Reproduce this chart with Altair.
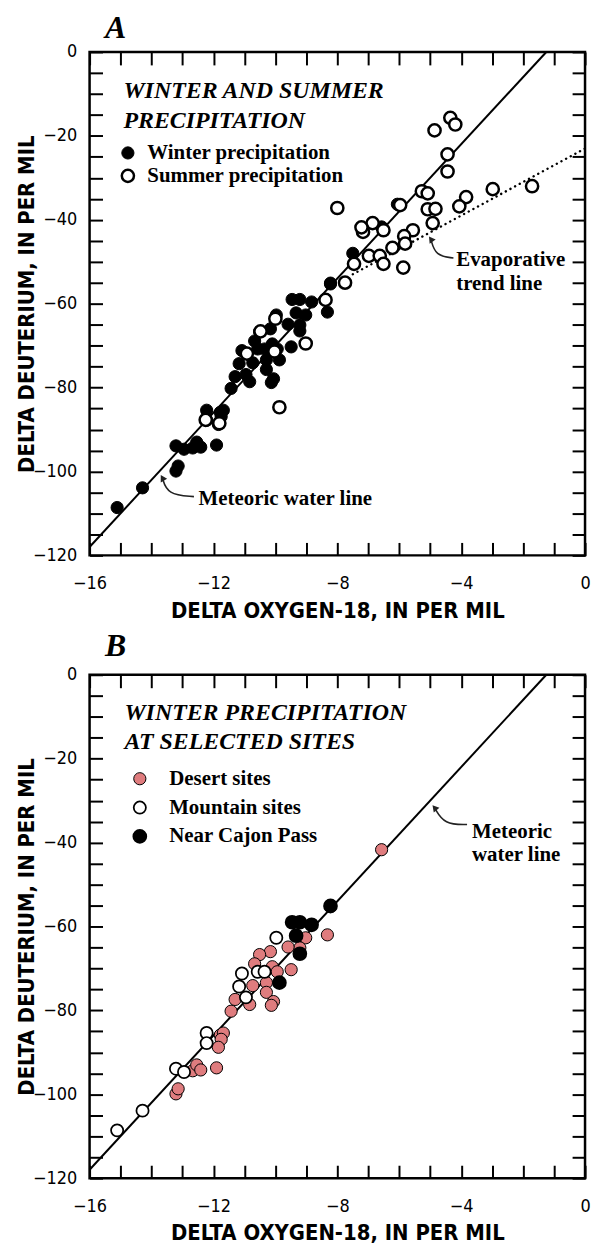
import altair as alt
import pandas as pd

# ---------------- Panel B data (winter precipitation at selected sites) ----------------
desert_x = [-6.57, -8.22, -8.32, -9.02, -9.21, -9.59, -10.16, -10.51, -10.67, -10.10, -9.49, -9.94,
            -10.29, -10.73, -10.29, -11.30, -10.83, -10.06, -10.13, -11.43, -11.78, -11.68, -11.75,
            -11.84, -13.21, -13.14, -12.67, -12.54, -12.41, -11.90]
desert_y = [-41.7, -55.3, -62.0, -62.7, -65.1, -64.9, -66.0, -66.7, -68.9, -69.6, -70.3, -70.8,
            -73.4, -74.1, -75.7, -77.4, -78.6, -77.9, -78.8, -80.2, -85.9, -85.4, -86.9,
            -88.8, -99.9, -98.7, -94.4, -93.0, -94.2, -93.7]
mountain_x = [-15.11, -14.29, -13.21, -12.95, -12.22, -12.22, -11.17, -10.95, -11.08, -10.57, -10.35, -9.97]
mountain_y = [-108.6, -103.9, -93.9, -94.7, -85.4, -87.8, -74.3, -76.9, -71.2, -70.8, -70.8, -62.7]
cajon_x = [-8.22, -9.46, -9.21, -8.83, -9.33, -9.21, -9.87]
cajon_y = [-55.1, -59.0, -59.0, -59.6, -62.2, -66.5, -73.4]

# ---------------- Panel A data ----------------
# winter precipitation = all panel B samples plus a few more
winter_extra_x = [-7.50, -6.06]
winter_extra_y = [-48.0, -36.3]
summer_x = [-4.35, -4.19, -4.86, -4.44, -4.44, -5.27, -5.08, -1.71, -2.98, -3.84, -4.06, -5.08,
            -4.83, -4.92, -5.97, -8.00, -6.86, -7.17, -7.22, -6.51, -5.56, -5.84, -5.81, -6.22,
            -6.98, -6.63, -6.51, -5.87, -7.46, -7.75, -8.38, -10.00, -10.48, -10.92, -10.03,
            -9.02, -9.87, -12.25, -11.81]
summer_y = [-15.7, -17.3, -18.7, -24.4, -28.5, -33.2, -33.7, -32.0, -32.7, -34.6, -36.8, -37.5,
            -37.4, -40.8, -36.5, -37.2, -40.8, -42.9, -41.8, -42.5, -42.5, -43.9, -45.7, -46.7,
            -48.6, -48.6, -50.5, -51.4, -50.5, -55.0, -59.1, -63.6, -66.6, -71.9, -71.4,
            -69.5, -84.7, -87.7, -88.5]

# Global meteoric water line: dD = 8 d18O + 10
mwl_x = [-16.0, -1.25]
mwl_y = [8 * v + 10 for v in mwl_x]
# Evaporative trend line: dD = 4 d18O - 23
evap_x = [-7.5, 0.0]
evap_y = [4 * v - 23 for v in evap_x]

x_ticks = list(range(-16, 1))
y_ticks = list(range(-120, 1, 5))

SANS = "Liberation Sans Narrow, DejaVu Sans Condensed, sans-serif"
SERIF = "Liberation Serif, serif"
W, H = 498, 506

xs = alt.Scale(domain=[-16, 0], nice=False, zero=False)
ys = alt.Scale(domain=[-120, 0], nice=False, zero=False)


def main_x_axis():
    return alt.Axis(orient="bottom", values=x_ticks, offset=-13, tickSize=13, domain=False,
                    grid=False, labelExpr="datum.value % 4 === 0 ? datum.label : ''",
                    labelFlush=False, labelOverlap=False, labelPadding=19,
                    title="DELTA OXYGEN-18, IN PER MIL", titlePadding=8)


def main_y_axis():
    return alt.Axis(orient="left", values=y_ticks, offset=-13, tickSize=13, domain=False,
                    grid=False, labelExpr="datum.value % 20 === 0 ? datum.label : ''",
                    labelFlush=False, labelOverlap=False, labelPadding=13,
                    title="DELTA DEUTERIUM, IN PER MIL", titlePadding=-6)


def mirror_x_axis():
    return alt.Axis(orient="top", values=x_ticks, offset=-13, tickSize=13, domain=False,
                    grid=False, labels=False, title=None)


def mirror_y_axis():
    return alt.Axis(orient="right", values=y_ticks, offset=-13, tickSize=13, domain=False,
                    grid=False, labels=False, title=None)


def lines(evap=True):
    mwl = alt.Chart(pd.DataFrame({"x": mwl_x, "y": mwl_y})).mark_line(
        color="black", strokeWidth=2).encode(
        x=alt.X("x:Q", scale=xs, axis=main_x_axis()),
        y=alt.Y("y:Q", scale=ys, axis=main_y_axis()))
    out = [mwl]
    if evap:
        ev = alt.Chart(pd.DataFrame({"x": evap_x, "y": evap_y})).mark_line(
            color="black", strokeWidth=2.4, strokeDash=[0.1, 5.2], strokeCap="round").encode(
            x=alt.X("x:Q", scale=xs, axis=None), y=alt.Y("y:Q", scale=ys, axis=None))
        out.append(ev)
    return out


def arrow(xs_, ys_, angle):
    df = pd.DataFrame({"x": xs_, "y": ys_, "o": list(range(len(xs_)))})
    ln = alt.Chart(df).mark_line(color="#222", strokeWidth=1.6, interpolate="basis").encode(
        x=alt.X("x:Q", scale=xs, axis=None), y=alt.Y("y:Q", scale=ys, axis=None), order="o:O")
    tip = alt.Chart(df.iloc[[-1]]).mark_point(shape="triangle-up", filled=True, color="#222",
                                               size=55, angle=angle, opacity=1).encode(
        x=alt.X("x:Q", scale=xs, axis=None), y=alt.Y("y:Q", scale=ys, axis=None))
    return [ln, tip]


def labels(tx, ty, tt, size=21, style="normal"):
    df = pd.DataFrame({"x": tx, "y": ty, "t": tt})
    return alt.Chart(df).mark_text(font=SERIF, fontWeight="bold", fontSize=size, fontStyle=style,
                                   align="left", baseline="alphabetic", color="black").encode(
        x=alt.X("x:Q", scale=xs, axis=None), y=alt.Y("y:Q", scale=ys, axis=None), text="t:N")


def legend(title, x, y, row_pad, sym_off, label_off, title_pad):
    return alt.Legend(title=title, orient="none", legendX=x, legendY=y, symbolType="circle",
                      symbolSize=150, symbolStrokeColor="black", rowPadding=row_pad,
                      symbolOffset=sym_off, labelOffset=label_off, titlePadding=title_pad,
                      labelFont=SERIF, labelFontWeight="bold", labelFontSize=21, labelColor="black",
                      titleFont=SERIF, titleFontStyle="italic", titleFontWeight="bold",
                      titleFontSize=24, titleLineHeight=30, titleColor="black",
                      titleLimit=600, labelLimit=600, padding=0)


# panel letters (A, B), placed just above each plot frame
letter_x = [-15.5, -15.5]
letter_y = [3.4, 4.5]

# ---------------- Panel A ----------------
a_kind = ["Winter precipitation"] * (len(desert_x) + len(mountain_x) + len(cajon_x) + len(winter_extra_x)) \
    + ["Summer precipitation"] * len(summer_x)
a_df = pd.DataFrame({
    "x": desert_x + mountain_x + cajon_x + winter_extra_x + summer_x,
    "y": desert_y + mountain_y + cajon_y + winter_extra_y + summer_y,
    "kind": a_kind,
})
a_dom = ["Winter precipitation", "Summer precipitation"]
a_leg = legend(["WINTER AND SUMMER", "PRECIPITATION"], 34, 27, 1, -6, 9, 10)
a_pts = alt.Chart(a_df).mark_point(filled=True, size=150, stroke="black", opacity=1).encode(
    x=alt.X("x:Q", scale=xs, axis=mirror_x_axis()),
    y=alt.Y("y:Q", scale=ys, axis=mirror_y_axis()),
    fill=alt.Fill("kind:N", scale=alt.Scale(domain=a_dom, range=["black", "white"]), legend=a_leg),
    strokeWidth=alt.StrokeWidth("kind:N", scale=alt.Scale(domain=a_dom, range=[1, 2.5]), legend=a_leg),
)
panel_a = alt.layer(
    *lines(True),
    a_pts,
    *arrow([-4.25, -4.83, -4.98], [-49.1, -48.6, -44.6], 325),
    *arrow([-12.63, -13.49, -13.65], [-106.0, -105.5, -101.5], 330),
    labels([-4.16, -4.16, -12.48], [-51.0, -56.7, -107.9], ["Evaporative", "trend line", "Meteoric water line"]),
    labels(letter_x[:1], letter_y[:1], ["A"], size=32, style="italic"),
).resolve_axis(x="independent", y="independent").properties(width=W, height=H)

# ---------------- Panel B ----------------
b_dom = ["Desert sites", "Mountain sites", "Near Cajon Pass"]
b_df = pd.DataFrame({
    "x": desert_x + mountain_x + cajon_x,
    "y": desert_y + mountain_y + cajon_y,
    "kind": ["Desert sites"] * len(desert_x) + ["Mountain sites"] * len(mountain_x)
    + ["Near Cajon Pass"] * len(cajon_x),
})
b_leg = legend(["WINTER PRECIPITATION", "AT SELECTED SITES"], 35, 26, 7, 5, 19, 14)
b_pts = alt.Chart(b_df).mark_point(filled=True, size=150, stroke="black", opacity=1).encode(
    x=alt.X("x:Q", scale=xs, axis=mirror_x_axis()),
    y=alt.Y("y:Q", scale=ys, axis=mirror_y_axis()),
    fill=alt.Fill("kind:N", scale=alt.Scale(domain=b_dom, range=["#DF7C7E", "white", "black"]), legend=b_leg),
    strokeWidth=alt.StrokeWidth("kind:N", scale=alt.Scale(domain=b_dom, range=[1, 2.5, 1]), legend=b_leg),
)
panel_b = alt.layer(
    *lines(False),
    b_pts,
    *arrow([-3.81, -4.54, -4.86], [-35.7, -35.7, -31.7], 320),
    labels([-3.65, -3.65], [-38.8, -44.3], ["Meteoric", "water line"]),
    labels(letter_x[1:], letter_y[1:], ["B"], size=32, style="italic"),
).resolve_axis(x="independent", y="independent").properties(width=W, height=H)

chart = alt.vconcat(panel_a, panel_b, spacing=5).resolve_scale(
    fill="independent", strokeWidth="independent"
).resolve_legend(
    fill="independent", strokeWidth="independent"
).configure_view(
    stroke="black", strokeWidth=2.5
).configure_axis(
    labelFont=SANS, labelFontSize=18, labelColor="black", tickColor="black", tickWidth=2,
    titleFont=SANS, titleFontSize=22, titleFontWeight="bold", titleColor="black"
).properties(padding={"left": 6, "top": -1, "right": 0, "bottom": 0})

chart.save("out.html", embed_options={"renderer": "svg", "actions": False})
